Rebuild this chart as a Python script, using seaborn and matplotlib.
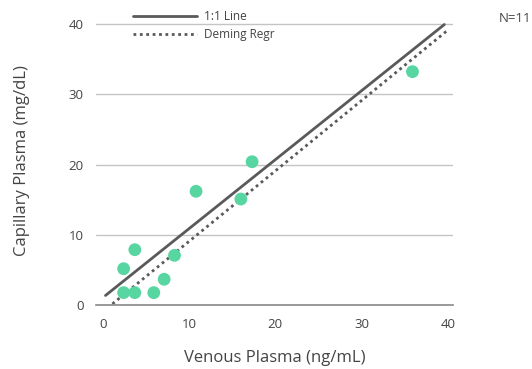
import numpy as np
import pandas as pd
import matplotlib
matplotlib.use("Agg")
import matplotlib.pyplot as plt
import seaborn as sns

# venous vs capillary plasma
venous = [2.4, 3.7, 5.9, 2.4, 3.7, 7.1, 8.3, 10.8, 16.0, 17.3, 35.9]
capillary = [1.8, 1.8, 1.8, 5.2, 7.9, 3.7, 7.1, 16.2, 15.1, 20.4, 33.2]

# reference lines (endpoints as drawn)
line11_x = [0.3, 39.6]
line11_y = [1.4, 39.9]
deming_x = [1.1, 40.0]
deming_y = [0.2, 39.1]

x_ticks = [0, 10, 20, 30, 40]
y_ticks = [0, 10, 20, 30, 40]

TEXT = "#444444"
LINE = "#5a5a5a"
POINT = "#58d6a2"

sns.set_style("white")
plt.rcParams["font.family"] = ["Open Sans", "DejaVu Sans"]

df = pd.DataFrame({"venous": venous, "capillary": capillary})

fig = plt.figure(figsize=(5.32, 3.69), dpi=100)
ax = fig.add_axes([0.1805, 0.1726, 0.671, 0.782])

sns.lineplot(x=line11_x, y=line11_y, ax=ax, color=LINE, linewidth=2.0,
             label="1:1 Line", clip_on=False, zorder=2)
sns.lineplot(x=deming_x, y=deming_y, ax=ax, color=LINE, linewidth=2.0,
             linestyle=(0, (1, 1.3)), label="Deming Regr", clip_on=False, zorder=2)
sns.scatterplot(data=df, x="venous", y="capillary", ax=ax, color=POINT,
                s=85, edgecolor="none", zorder=3, clip_on=False)

ax.set_xlim(-0.8, 40.6)
ax.set_ylim(0, 41)
ax.set_xticks(x_ticks)
ax.set_yticks(y_ticks)
ax.yaxis.grid(True, color="#c4c4c4", linewidth=1.0)
ax.set_axisbelow(True)
for s in ["left", "right", "top"]:
    ax.spines[s].set_visible(False)
ax.spines["bottom"].set_color("#8a8a8a")
ax.spines["bottom"].set_linewidth(1.2)
ax.tick_params(axis="both", length=0, labelsize=9.5, colors=TEXT)
ax.tick_params(axis="x", pad=9)
ax.tick_params(axis="y", pad=9)

ax.set_xlabel("Venous Plasma (ng/mL)", fontsize=12, color=TEXT, labelpad=14)
ax.set_ylabel("Capillary Plasma (mg/dL)", fontsize=12, color=TEXT, labelpad=28)

leg = ax.legend(loc="upper left", bbox_to_anchor=(0.09, 1.04), frameon=False,
                handlelength=5.4, handletextpad=0.6, labelspacing=0.45,
                fontsize=8.5, borderaxespad=0)
for t in leg.get_texts():
    t.set_color(TEXT)

fig.text(531 / 532, 1 - 18 / 369, "N=11", fontsize=9.5, color=TEXT, va="center",
         ha="right")

fig.savefig("out.png", dpi=100)
